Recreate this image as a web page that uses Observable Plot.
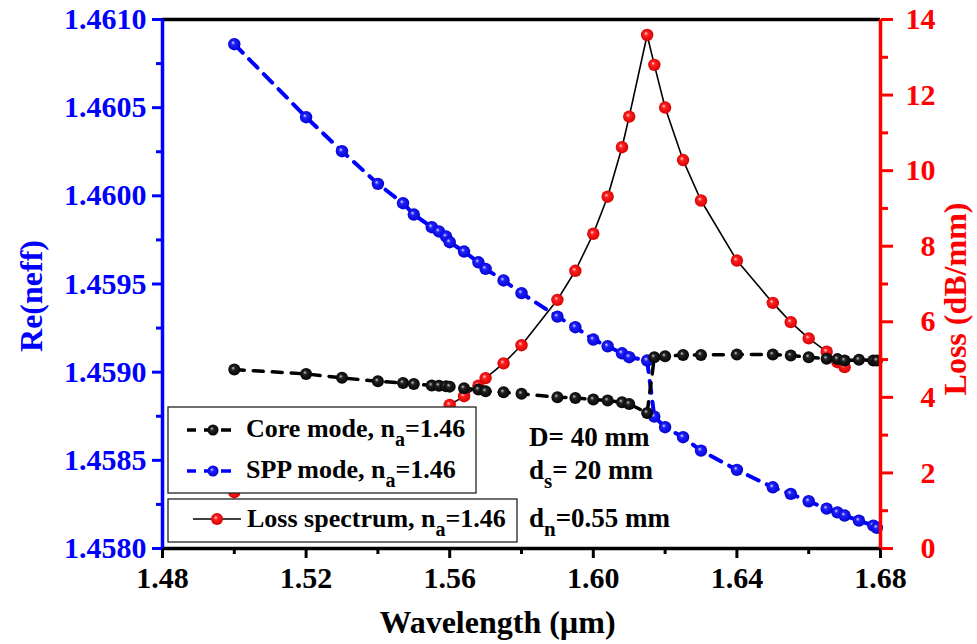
<!DOCTYPE html>
<html><head><meta charset="utf-8">
<script src="https://cdn.jsdelivr.net/npm/d3@7"></script>
<script src="https://cdn.jsdelivr.net/npm/@observablehq/plot@0.6"></script>
<style>body{margin:0;background:#fff;} svg{display:block} svg text{font-family:"Liberation Serif","Times New Roman",serif !important;font-weight:bold;}</style>
</head><body><div id="chart"></div>
<script>
// ---- data ----
const wavelength = [1.500,1.520,1.530,1.540,1.547,1.550,1.555,1.557,1.559,1.560,1.564,1.568,1.570,1.575,1.580,1.590,1.595,1.600,1.604,1.608,1.610,1.615,1.617,1.620,1.625,1.630,1.640,1.650,1.655,1.660,1.665,1.668,1.670,1.674,1.678,1.679];
const coreNeff = [1.459015,1.458990,1.458968,1.458948,1.458939,1.458933,1.458924,1.458923,1.458920,1.458918,1.458909,1.458901,1.458892,1.458886,1.458877,1.458858,1.458854,1.458845,1.458839,1.458829,1.458820,1.458769,1.459085,1.459090,1.459098,1.459098,1.459100,1.459100,1.459094,1.459085,1.459076,1.459074,1.459066,1.459070,1.459066,1.459066];
const sppNeff = [1.460860,1.460446,1.460253,1.460068,1.459958,1.459894,1.459822,1.459798,1.459769,1.459737,1.459684,1.459623,1.459586,1.459520,1.459448,1.459315,1.459255,1.459185,1.459147,1.459107,1.459085,1.459066,1.458748,1.458688,1.458631,1.458555,1.458446,1.458347,1.458310,1.458268,1.458226,1.458205,1.458187,1.458158,1.458130,1.458117];
const lossWavelength = [1.500,1.520,1.530,1.540,1.547,1.550,1.555,1.560,1.564,1.568,1.570,1.575,1.580,1.590,1.595,1.600,1.604,1.608,1.610,1.615,1.617,1.620,1.625,1.630,1.640,1.650,1.655,1.660,1.665,1.668,1.670];
const lossValues = [1.49,2.05,2.40,2.85,3.15,3.30,3.55,3.80,4.03,4.31,4.51,4.90,5.38,6.58,7.35,8.33,9.31,10.62,11.43,13.59,12.80,11.67,10.28,9.21,7.62,6.50,5.99,5.56,5.21,4.93,4.80];

const xTicks = [1.48,1.52,1.56,1.60,1.64,1.68];
const xMinorTicks = [1.50,1.54,1.58,1.62,1.66];
const leftTicks = [1.4580,1.4585,1.4590,1.4595,1.4600,1.4605,1.4610];
const leftMinorTicks = [1.45825,1.45875,1.45925,1.45975,1.46025,1.46075];
const rightTicks = [0,2,4,6,8,10,12,14];
const rightMinorTicks = [1,3,5,7,9,11,13];
const legendLabels = ["Core mode, n", "SPP mode, n", "Loss spectrum, n"];
const annotations = [["D= 40 mm","",""],["d","s","= 20 mm"],["d","n","=0.55 mm"]];

// ---- build tables ----
const leftMin = 1.4580, leftMax = 1.4610, lossMax = 14;
const toLeft = v => leftMin + v * (leftMax - leftMin) / lossMax;
const fromLeft = d => Math.round((d - leftMin) * lossMax / (leftMax - leftMin));
const modes = wavelength.map((w, i) => ({w, core: coreNeff[i], spp: sppNeff[i]}));
const loss = lossWavelength.map((w, i) => ({w, loss: lossValues[i]}));

const FONT = "Liberation Serif, Times New Roman, serif";
const BLUE = "#0000ff", RED = "#ff0000";
const axisFont = {fontFamily: FONT, fontWeight: "bold", fontSize: 30};

const chart = Plot.plot({
  width: 977, height: 644,
  marginLeft: 162, marginRight: 97, marginTop: 19, marginBottom: 96,
  x: {domain: [1.48, 1.68]},
  y: {domain: [leftMin, leftMax]},
  style: {fontFamily: FONT, fontWeight: "bold", background: "white", overflow: "visible"},
  marks: [
    Plot.line(loss, {x: "w", y: d => toLeft(d.loss), stroke: "black", strokeWidth: 1.6}),
    Plot.dot(loss, {x: "w", y: d => toLeft(d.loss), r: 6.2, fill: "url(#gRed)"}),
    Plot.line(modes, {x: "w", y: "spp", stroke: BLUE, strokeWidth: 4, strokeDasharray: "12,9"}),
    Plot.dot(modes, {x: "w", y: "spp", r: 6.2, fill: "url(#gBlue)"}),
    Plot.line(modes, {x: "w", y: "core", stroke: "black", strokeWidth: 3.5, strokeDasharray: "10,9"}),
    Plot.dot(modes, {x: "w", y: "core", r: 6, fill: "url(#gBlack)"}),
    // axes: major & minor ticks
    Plot.axisX(xTicks, {anchor: "bottom", tickSize: 10, tickPadding: 8, strokeWidth: 3, ...axisFont, tickFormat: d => d.toFixed(2), label: null, color: "black"}),
    Plot.axisX(xMinorTicks, {anchor: "bottom", tickSize: 6, strokeWidth: 3, fill: "none", label: null, stroke: "black"}),
    Plot.axisY(leftTicks, {anchor: "left", tickSize: 10, tickPadding: 6, strokeWidth: 3, ...axisFont, tickFormat: d => d.toFixed(4), label: null, color: BLUE}),
    Plot.axisY(leftMinorTicks, {anchor: "left", tickSize: 6, strokeWidth: 3, fill: "none", label: null, stroke: BLUE}),
    Plot.axisY(rightTicks.map(toLeft), {anchor: "right", tickSize: 12, tickPadding: 43, textAnchor: "end", strokeWidth: 3, ...axisFont, tickFormat: d => String(fromLeft(d)), label: null, color: RED}),
    Plot.axisY(rightMinorTicks.map(toLeft), {anchor: "right", tickSize: 7, strokeWidth: 3, fill: "none", label: null, stroke: RED}),
    // frame lines
    Plot.ruleY([leftMax], {stroke: "black", strokeWidth: 3.5}),
    Plot.ruleY([leftMin], {stroke: "black", strokeWidth: 3.5}),
    Plot.ruleX([1.48], {stroke: BLUE, strokeWidth: 3.5}),
    Plot.ruleX([1.68], {stroke: RED, strokeWidth: 3.5}),
    // axis titles
    Plot.text(["Wavelength (\u00b5m)"], {frameAnchor: "bottom", textAnchor: "middle", dx: -24, dy: 84, fontSize: 32, fontFamily: FONT, fontWeight: "bold", fill: "black"}),
    Plot.text(["Re(neff)"], {frameAnchor: "left", textAnchor: "middle", dx: -131, dy: 12, rotate: -90, fontSize: 32, fontFamily: FONT, fontWeight: "bold", fill: BLUE}),
    Plot.text(["Loss (dB/mm)"], {frameAnchor: "right", textAnchor: "middle", dx: 75, dy: 15, rotate: -90, fontSize: 32, fontFamily: FONT, fontWeight: "bold", fill: RED})
  ]
});

// sphere gradients
const svg = d3.select(chart);
svg.selectAll("text").style("font-family", FONT).style("font-variant", "normal");
const defs = svg.insert("defs", ":first-child");
function grad(id, hi, mid, edge) {
  const g = defs.append("radialGradient").attr("id", id)
    .attr("cx", "0.5").attr("cy", "0.5").attr("r", "0.55").attr("fx", "0.38").attr("fy", "0.36");
  g.append("stop").attr("offset", "0%").attr("stop-color", hi);
  g.append("stop").attr("offset", "30%").attr("stop-color", mid);
  g.append("stop").attr("offset", "100%").attr("stop-color", edge);
}
grad("gBlue", "#d8d8ff", "#2020ff", "#0000c8");
grad("gRed", "#ffd8d8", "#ff2020", "#d00000");
grad("gBlack", "#c8c8c8", "#222222", "#000000");

// legend boxes (drawn over the data, as in the reference)
const leg = svg.append("g").attr("font-family", FONT).attr("font-weight", "bold").attr("text-anchor", "start");
leg.append("rect").attr("x", 168).attr("y", 407).attr("width", 308).attr("height", 86)
  .attr("fill", "white").attr("stroke", "#222").attr("stroke-width", 1.3);
leg.append("rect").attr("x", 168).attr("y", 499).attr("width", 349).attr("height", 43)
  .attr("fill", "white").attr("stroke", "#222").attr("stroke-width", 1.3);

function modeSymbol(cy, color, gid) {
  leg.append("line").attr("x1", 187).attr("x2", 196).attr("y1", cy).attr("y2", cy).attr("stroke", color).attr("stroke-width", 3.5);
  leg.append("line").attr("x1", 204).attr("x2", 231).attr("y1", cy).attr("y2", cy).attr("stroke", color).attr("stroke-width", 3.5).attr("stroke-dasharray", "10,7");
  leg.append("circle").attr("cx", 213).attr("cy", cy).attr("r", 5.5).attr("fill", `url(#${gid})`);
}
modeSymbol(430, "black", "gBlack");
modeSymbol(471, BLUE, "gBlue");
leg.append("line").attr("x1", 193).attr("x2", 241).attr("y1", 519).attr("y2", 519).attr("stroke", "black").attr("stroke-width", 1.5);
leg.append("circle").attr("cx", 217).attr("cy", 519).attr("r", 6).attr("fill", "url(#gRed)");

function subText(x, y, size, main, sub, rest) {
  const t = leg.append("text").attr("x", x).attr("y", y).attr("font-size", size).attr("fill", "black").attr("text-anchor", "start");
  t.append("tspan").text(main);
  if (sub) {
    t.append("tspan").attr("font-size", size - 6).attr("dy", 9).text(sub);
    t.append("tspan").attr("dy", -9).text(rest);
  }
}
subText(246, 437, 26, legendLabels[0], "a", "=1.46");
subText(246, 478, 26, legendLabels[1], "a", "=1.46");
subText(247, 527, 26, legendLabels[2], "a", "=1.46");
subText(529, 446, 27, annotations[0][0], "", "");
subText(529, 479, 27, annotations[1][0], annotations[1][1], annotations[1][2]);
subText(529, 527, 27, annotations[2][0], annotations[2][1], annotations[2][2]);

document.getElementById("chart").appendChild(chart);
</script>
</body></html>
